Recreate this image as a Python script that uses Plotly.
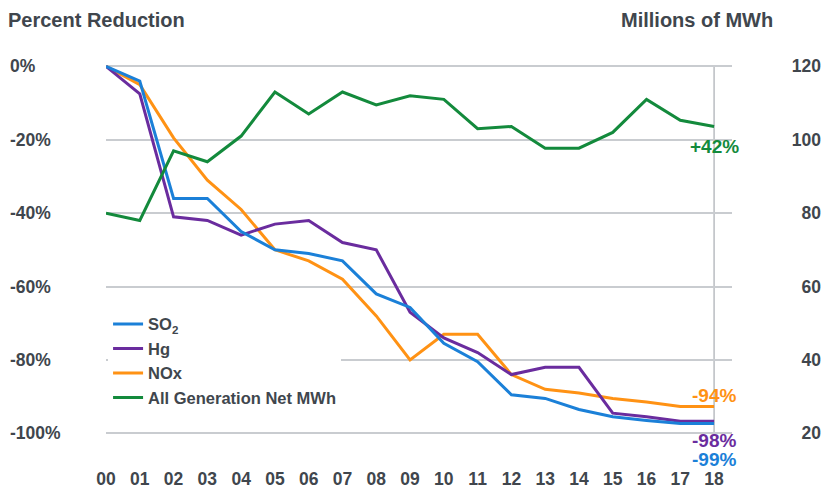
import plotly.graph_objects as go

years = ["00", "01", "02", "03", "04", "05", "06", "07", "08", "09",
         "10", "11", "12", "13", "14", "15", "16", "17", "18"]
so2 = [0, -4, -36, -36, -45, -50, -51, -53, -62, -65.7,
       -75.5, -80.5, -89.5, -90.5, -93.5, -95.5, -96.5, -97.3, -97.3]
hg = [0, -7.5, -41, -42, -46, -43, -42, -48, -50, -67,
      -74, -78, -84, -82, -82, -94.5, -95.5, -96.7, -96.7]
nox = [0, -5, -19.5, -31, -39, -50, -53, -58, -68, -80,
       -73, -73, -84, -88, -89, -90.5, -91.5, -92.7, -92.7]
gen = [80, 78, 97, 94, 101, 113, 107, 113, 109.5, 112,
       111, 103, 103.6, 97.7, 97.7, 102, 111, 105.3, 103.6]

left_ticks = [0, -20, -40, -60, -80, -100]
left_text = ["0%", "-20%", "-40%", "-60%", "-80%", "-100%"]
right_ticks = [120, 100, 80, 60, 40, 20]
end_labels = ["+42%", "-94%", "-98%", "-99%"]

C_SO2 = "#1b80d8"
C_HG = "#6a2c9e"
C_NOX = "#ff9214"
C_GEN = "#138a3c"
TXT = "#40464d"
GRID = "#c9ccd0"
FONT = "Liberation Sans"

fig = go.Figure()
fig.add_trace(go.Scatter(x=years, y=gen, name="All Generation Net MWh", yaxis="y2",
                         mode="lines", line=dict(color=C_GEN, width=3)))
fig.add_trace(go.Scatter(x=years, y=nox, name="NOx", mode="lines",
                         line=dict(color=C_NOX, width=3)))
fig.add_trace(go.Scatter(x=years, y=hg, name="Hg", mode="lines",
                         line=dict(color=C_HG, width=3)))
fig.add_trace(go.Scatter(x=years, y=so2, name="SO<sub>2</sub>", mode="lines",
                         line=dict(color=C_SO2, width=3)))

# vertical reference line at last year
fig.add_shape(type="line", xref="x", yref="y", x0=years[-1], x1=years[-1],
              y0=left_ticks[-1], y1=left_ticks[0], line=dict(color="#b9bdc1", width=1.5),
              layer="below")

ann = [
    dict(text=end_labels[0], y=gen[-1], yref="y2", yshift=-20, color=C_GEN),
    dict(text=end_labels[1], y=nox[-1], yref="y", yshift=11, color=C_NOX),
    dict(text=end_labels[2], y=hg[-1], yref="y", yshift=-19, color=C_HG),
    dict(text=end_labels[3], y=so2[-1], yref="y", yshift=-36, color=C_SO2),
]
for a in ann:
    fig.add_annotation(x=years[-1], xref="x", y=a["y"], yref=a["yref"], yshift=a["yshift"],
                       text=a["text"], showarrow=False, xanchor="center", yanchor="middle",
                       font=dict(family=FONT, size=19, color=a["color"], weight="bold"))

fig.add_annotation(text="Percent Reduction", xref="paper", yref="paper", x=-0.004, y=1.095,
                   xanchor="left", yanchor="middle", showarrow=False,
                   font=dict(family=FONT, size=20, color=TXT, weight="bold"))
fig.add_annotation(text="Millions of MWh", xref="paper", yref="paper", x=0.9433, y=1.095,
                   xanchor="right", yanchor="middle", showarrow=False,
                   font=dict(family=FONT, size=20, color=TXT, weight="bold"))

tickfont = dict(family=FONT, size=17.5, color=TXT, weight="bold")

fig.update_layout(
    width=821, height=489,
    margin=dict(l=9, r=0, t=59, b=19, autoexpand=False),
    paper_bgcolor="white", plot_bgcolor="white",
    showlegend=True,
    legend=dict(x=0.122, y=0.397, xanchor="left", yanchor="top", bgcolor="white",
                traceorder="reversed",
                font=dict(family=FONT, size=16.5, color=TXT, weight="bold")),
    xaxis=dict(domain=[0.11946, 0.89039], range=[0, 18.53], type="category",
               showgrid=False, showline=False, zeroline=False, ticks="",
               ticklabelstandoff=-4, automargin=False, tickfont=tickfont, fixedrange=True),
    yaxis=dict(range=[-110, 2], anchor="free", position=0, side="right",
               tickvals=left_ticks, ticktext=left_text, showgrid=True, automargin=False,
               gridcolor=GRID, gridwidth=1.5, zeroline=False, showline=False,
               ticks="", tickfont=tickfont),
    yaxis2=dict(range=[10, 122], overlaying="y", anchor="free", position=1, side="left",
                tickvals=right_ticks, showgrid=False, zeroline=False, showline=False,
                automargin=False, ticks="", tickfont=tickfont),
)

fig.write_html("out.html", config={"displayModeBar": False})

# remove the default page margin so the figure sits at the window's top-left corner
with open("out.html", "r", encoding="utf-8") as f:
    html = f.read()
html = html.replace("<head>", "<head><style>html,body{margin:0;padding:0;overflow:hidden;}</style>", 1)
with open("out.html", "w", encoding="utf-8") as f:
    f.write(html)
